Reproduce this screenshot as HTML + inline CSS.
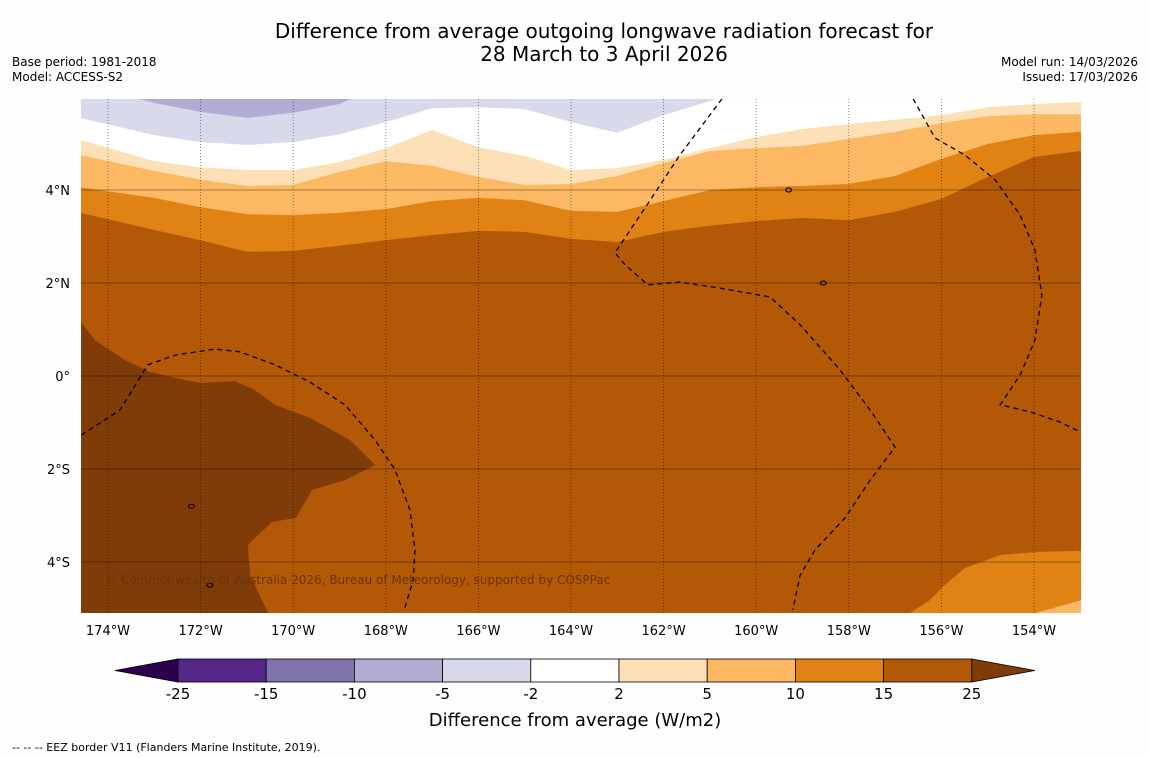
<!DOCTYPE html>
<html><head><meta charset="utf-8">
<style>
body{margin:0;background:#fefefe;font-family:"DejaVu Sans","Liberation Sans",sans-serif;}
#wrap{position:relative;width:1150px;height:758px;overflow:hidden;}
svg text{font-family:"DejaVu Sans","Liberation Sans",sans-serif;}
</style></head>
<body>
<div id="wrap">
<svg id="svg" width="1150" height="758">
<text x="604" y="38" font-size="20" text-anchor="middle" fill="#000">Difference from average outgoing longwave radiation forecast for</text>
<text x="604" y="61" font-size="20" text-anchor="middle" fill="#000">28 March to 3 April 2026</text>
<text x="12" y="66" font-size="12">Base period: 1981-2018</text>
<text x="12" y="81" font-size="12">Model: ACCESS-S2</text>
<text x="1138" y="66" font-size="12" text-anchor="end">Model run: 14/03/2026</text>
<text x="1138" y="81" font-size="12" text-anchor="end">Issued: 17/03/2026</text>
<defs><clipPath id="mapclip"><rect x="81" y="99" width="1000" height="514"/></clipPath></defs>
<g id="map" clip-path="url(#mapclip)"></g>
<g id="axes"></g>
<g id="cbar"></g>
<text x="575" y="726" font-size="18" text-anchor="middle">Difference from average (W/m2)</text>
<text x="12" y="751" font-size="11">--  --  -- EEZ border V11 (Flanders Marine Institute, 2019).</text>
</svg>
</div>
<script>
// ---- data ----
const gridLon = [-174.6,-173,-172,-171,-170,-169,-168,-167,-166,-165,-164,-163,-162,-161,-160,-159,-158,-157,-156,-155,-154,-153,-152.9];
const edge15 = [3.51,3.14,2.92,2.67,2.69,2.80,2.92,3.03,3.12,3.10,2.95,2.88,3.10,3.23,3.33,3.40,3.35,3.53,3.81,4.28,4.71,4.84,4.84];
const edge10 = [4.06,3.83,3.63,3.48,3.46,3.51,3.59,3.76,3.83,3.78,3.55,3.53,3.76,4.00,4.06,4.09,4.13,4.30,4.67,4.99,5.18,5.25,5.25];
const edge5  = [4.75,4.41,4.22,4.09,4.11,4.39,4.62,4.52,4.28,4.11,4.13,4.30,4.58,4.84,4.90,4.95,5.10,5.25,5.44,5.59,5.63,5.63,5.63];
const edge2  = [5.08,4.62,4.49,4.43,4.43,4.60,4.90,5.29,4.92,4.73,4.43,4.47,4.65,4.90,5.14,5.31,5.42,5.51,5.61,5.78,5.85,5.89,5.89];
const edgeM2 = [5.55,5.18,5.03,4.97,5.03,5.20,5.46,5.76,5.78,5.74,5.46,5.23,5.61,5.91,6.3,6.3,6.3,6.3,6.3,6.3,6.3,6.3,6.3];
const edgeM5 = [6.3,5.87,5.68,5.55,5.66,5.85,6.3,6.3,6.3,6.3,6.3,6.3,6.3,6.3,6.3,6.3,6.3,6.3,6.3,6.3,6.3,6.3,6.3];
const hiLon = [-174.58,-174.28,-173.63,-173.09,-172.55,-172.01,-171.26,-170.83,-170.39,-169.64,-168.77,-168.23,-168.88,-169.59,-169.94,-170.46,-170.98,-170.93,-170.54,-174.58];
const hiLat = [1.16,0.77,0.34,0.09,-0.04,-0.15,-0.11,-0.30,-0.62,-0.90,-1.38,-1.91,-2.24,-2.45,-3.05,-3.14,-3.63,-4.28,-5.10,-5.10];
const seLon = [-156.68,-156.25,-155.92,-155.49,-154.73,-153.87,-152.98,-152.98];
const seLat = [-5.10,-4.82,-4.49,-4.13,-3.85,-3.78,-3.76,-5.10];
const cornerLon = [-153.98,-152.98,-152.98];
const cornerLat = [-5.10,-4.82,-5.10];
const eez1Lon = [-160.74,-161.65,-162.29,-163.05,-162.83,-162.34,-161.65,-160.78,-159.70,-159.05,-158.19,-157.54,-157.00,-157.54,-158.08,-158.73,-159.05,-159.21];
const eez1Lat = [5.96,4.75,3.78,2.65,2.39,1.96,2.02,1.89,1.70,1.10,0.13,-0.73,-1.53,-2.24,-3.05,-3.74,-4.28,-5.03];
const eez2Lon = [-156.61,-156.14,-155.49,-154.84,-154.30,-153.98,-153.83,-153.98,-154.30,-154.73,-154.09,-153.44,-153.01];
const eez2Lat = [5.96,5.12,4.75,4.22,3.46,2.71,1.74,0.77,0.02,-0.62,-0.77,-0.99,-1.20];
const eez3Lon = [-174.58,-173.74,-173.14,-172.55,-171.69,-171.15,-170.39,-169.64,-168.88,-168.23,-167.80,-167.48,-167.37,-167.41,-167.59];
const eez3Lat = [-1.27,-0.73,0.24,0.45,0.58,0.52,0.24,-0.13,-0.62,-1.38,-2.02,-2.88,-3.74,-4.39,-4.99];
const lonTicks = [-174,-172,-170,-168,-166,-164,-162,-160,-158,-156,-154];
const latTicks = [4,2,0,-2,-4];
const cbarLabels = ["-25","-15","-10","-5","-2","2","5","10","15","25"];
const cbarColors = ["#542788","#8073ac","#b2abd2","#d8daeb","#ffffff","#fee0b6","#fdb863","#e08214","#b35806"];

// ---- axes functions ----
const xOf = lon => 108 + (lon + 174) * 46.3;
const yOf = lat => 376 - lat * 46.5;
const NS = "http://www.w3.org/2000/svg";
function mk(tag, attrs, parent){const e=document.createElementNS(NS,tag);for(const k in attrs)e.setAttribute(k,attrs[k]);parent.appendChild(e);return e;}
const map = document.getElementById('map');
const axes = document.getElementById('axes');
const cbar = document.getElementById('cbar');

let bg = mk('rect',{x:81,y:99,width:1000,height:514,fill:'#b35806'},map);



function band(edge, color, name){
  let pts = gridLon.map((l,i)=>xOf(l)+','+yOf(edge[i]));
  pts.push(xOf(gridLon[gridLon.length-1])+','+yOf(7));
  pts.push(xOf(gridLon[0])+','+yOf(7));
  const p = mk('polygon',{points:pts.join(' '),fill:color},map);
  
  
}
band(edge15,'#e08214','band-10-15');
band(edge10,'#fdb863','band-5-10');
band(edge5,'#fee0b6','band-2-5');
band(edge2,'#ffffff','band-neg2-2');
band(edgeM2,'#d8daeb','band-neg5-neg2');
band(edgeM5,'#b2abd2','band-neg10-neg5');

function poly(lons,lats,color,name){
  const p = mk('polygon',{points:lons.map((l,i)=>xOf(l)+','+yOf(lats[i])).join(' '),fill:color},map);
  
  
}
poly(hiLon,hiLat,'#7f3b08','band-above-25');
poly(seLon,seLat,'#e08214','band-10-15-southeast');
poly(cornerLon,cornerLat,'#fdb863','band-5-10-corner');

// gridlines
latTicks.forEach(lat=>{
  const l = mk('line',{x1:81,x2:1081,y1:yOf(lat),y2:yOf(lat),stroke:'rgba(0,0,0,0.35)','stroke-width':1},map);
  
  
});
lonTicks.forEach(lon=>{
  const l = mk('line',{x1:xOf(lon),x2:xOf(lon),y1:99,y2:613,stroke:'rgba(0,0,0,0.55)','stroke-width':0.8,'stroke-dasharray':'1,2'},map);
  
  
});

function dline(lons,lats,name){
  const p = mk('polyline',{points:lons.map((l,i)=>xOf(l)+','+yOf(lats[i])).join(' '),fill:'none',stroke:'#000','stroke-width':1.3,'stroke-dasharray':'5,4'},map);
  
  
}
dline(eez1Lon,eez1Lat,'eez-border-kiribati-east');
dline(eez2Lon,eez2Lat,'eez-border-east');
dline(eez3Lon,eez3Lat,'eez-border-west');

// small islands
[[-158.55,2.0],[-159.3,4.0],[-172.2,-2.8],[-171.8,-4.5]].forEach(([lo,la])=>{
  const e = mk('ellipse',{cx:xOf(lo),cy:yOf(la),rx:3,ry:2,fill:'none',stroke:'#000','stroke-width':1},map);
  
  
});

const cr = mk('text',{x:105,y:584,'font-size':12,fill:'#6b3308'},map);
cr.textContent='© Commonwealth of Australia 2026, Bureau of Meteorology, supported by COSPPac';



// axis labels
lonTicks.forEach(lon=>{
  const t = mk('text',{x:xOf(lon),y:635,'font-size':13,'text-anchor':'middle'},axes);
  t.textContent = Math.abs(lon)+'°W';
  
  
});
latTicks.forEach(lat=>{
  const t = mk('text',{x:70,y:yOf(lat)+5,'font-size':13,'text-anchor':'end'},axes);
  t.textContent = lat===0?'0°':Math.abs(lat)+'°'+(lat>0?'N':'S');
  
  
});

// colorbar
const cx0=178, cw=88.2, cy=659, ch=23;
const lt = mk('polygon',{points:`${cx0},${cy} ${cx0},${cy+ch} 115,${cy+ch/2}`,fill:'#2d004b',stroke:'#000','stroke-width':0.8},cbar);


cbarColors.forEach((c,i)=>{
  const r = mk('rect',{x:cx0+i*cw,y:cy,width:cw,height:ch,fill:c,stroke:'#000','stroke-width':0.8},cbar);
  
  
});
const xe = cx0+cbarColors.length*cw;
const rt = mk('polygon',{points:`${xe},${cy} ${xe},${cy+ch} 1035,${cy+ch/2}`,fill:'#7f3b08',stroke:'#000','stroke-width':0.8},cbar);


cbarLabels.forEach((s,i)=>{
  const t = mk('text',{x:cx0+i*cw,y:699,'font-size':15,'text-anchor':'middle'},cbar);
  t.textContent=s;
  
  
});
</script>
</body></html>
